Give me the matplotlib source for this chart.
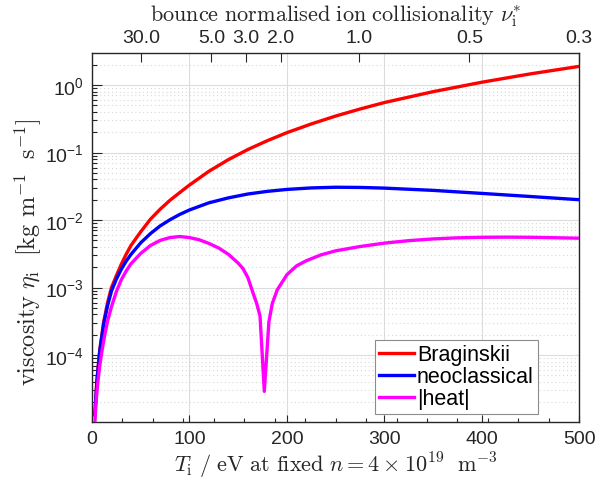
import numpy as np
import matplotlib
matplotlib.use("Agg")
import matplotlib.pyplot as plt
from matplotlib.ticker import LogLocator, NullFormatter, FixedLocator

# ---- data ----
T_brag = [3, 5, 8, 12, 16, 20, 25, 30, 35, 40, 50, 60, 70, 80, 90, 100, 120, 140,
          160, 180, 200, 225, 250, 275, 300, 350, 400, 450, 500]
eta_brag = [1.35e-5, 4.2e-5, 1.2e-4, 3.1e-4, 6.0e-4, 1.0e-3, 1.5e-3, 2.2e-3, 3.1e-3,
            4.2e-3, 6.7e-3, 0.0103, 0.0145, 0.0196, 0.0255, 0.033, 0.0528, 0.0786,
            0.111, 0.150, 0.197, 0.265, 0.347, 0.441, 0.55, 0.797, 1.10, 1.464, 1.89]

T_neo = [3, 5, 8, 12, 16, 20, 25, 30, 35, 40, 50, 60, 70, 80, 90, 100, 120, 140,
         160, 180, 200, 225, 250, 275, 300, 350, 400, 450, 500]
eta_neo = [1.3e-5, 4.0e-5, 1.15e-4, 2.9e-4, 5.4e-4, 8.9e-4, 1.33e-3, 1.86e-3, 2.45e-3,
           3.1e-3, 4.6e-3, 6.3e-3, 8.2e-3, 0.0101, 0.0121, 0.0141, 0.0180, 0.0213,
           0.0243, 0.0266, 0.0284, 0.0299, 0.0306, 0.0304, 0.0297, 0.0275, 0.0248,
           0.0223, 0.0200]

T_heat = [3, 4, 6, 8, 10, 13, 16, 20, 25, 30, 35, 40, 50, 60, 70, 80, 90, 100, 110,
          120, 130, 140, 150, 155, 160, 165, 169, 172.4, 176.8, 181.5, 185, 190,
          200, 210, 220, 235, 250, 275, 300, 325, 350, 375, 400, 425, 450, 475, 500]
eta_heat = [1.0e-5, 1.9e-5, 4.0e-5, 7.0e-5, 1.1e-4, 1.95e-4, 3.2e-4, 5.2e-4, 8.7e-4,
            1.3e-3, 1.75e-3, 2.25e-3, 3.2e-3, 4.2e-3, 5.0e-3, 5.5e-3, 5.7e-3, 5.5e-3,
            5.1e-3, 4.5e-3, 3.85e-3, 3.1e-3, 2.3e-3, 1.9e-3, 1.4e-3, 8.5e-4, 5.8e-4,
            3.8e-4, 2.9e-5, 3.1e-4, 5.8e-4, 9.2e-4, 1.55e-3, 2.1e-3, 2.5e-3, 3.05e-3,
            3.5e-3, 4.05e-3, 4.55e-3, 4.95e-3, 5.25e-3, 5.45e-3, 5.55e-3, 5.58e-3,
            5.55e-3, 5.47e-3, 5.38e-3]

series_labels = ["Braginskii", "neoclassical", "|heat|"]
series_colors = ["#ff0000", "#0000ff", "#ff00ff"]

x_ticks = [0, 100, 200, 300, 400, 500]
nu_ticks = [30.0, 5.0, 3.0, 2.0, 1.0, 0.5, 0.3]
nu_ticklabels = ["30.0", "5.0", "3.0", "2.0", "1.0", "0.5", "0.3"]
T_nu1 = 275.0  # temperature where nu* = 1 (nu* ~ (T_nu1/T)^2)

# ---- style ----
plt.rcParams["font.family"] = ["Liberation Sans", "DejaVu Sans"]
plt.rcParams["mathtext.fontset"] = "custom"
plt.rcParams["mathtext.rm"] = "Liberation Sans"
plt.rcParams["mathtext.it"] = "Liberation Sans:italic"
plt.rcParams["mathtext.bf"] = "Liberation Sans:bold"

dark = "#262626"
W, H = 616, 481
fig = plt.figure(figsize=(W / 100, H / 100), dpi=100)
L, R, Tp, B = 92, 579.3, 54, 422.7
ax = fig.add_axes([L / W, 1 - B / H, (R - L) / W, (B - Tp) / H])

for Tv, ev, lab, col in zip([T_brag, T_neo, T_heat], [eta_brag, eta_neo, eta_heat],
                            series_labels, series_colors):
    ax.plot(Tv, ev, color=col, lw=2.4, label=lab, solid_joinstyle="round", zorder=3)

ax.set_yscale("log")
ax.set_xlim(0, 500)
ax.set_ylim(1.03e-5, 2.98)
ax.set_xticks(x_ticks)
ax.xaxis.set_minor_locator(FixedLocator(np.arange(0, 501, 31.25)))
ax.yaxis.set_major_locator(LogLocator(base=10, numticks=20))
ax.yaxis.set_minor_locator(LogLocator(base=10, subs=np.arange(2, 10), numticks=50))
ax.yaxis.set_minor_formatter(NullFormatter())

ax.grid(True, which="major", color="#dcdcdc", lw=0.8, zorder=0)
ax.grid(True, which="minor", axis="y", color="#d8d8d8", lw=0.8, ls=(0, (1, 2.5)), zorder=0)
ax.set_axisbelow(True)

ax.tick_params(axis="x", which="major", direction="in", length=5, width=0.8,
               color=dark, labelsize=14, labelcolor=dark, pad=6, top=False)
ax.tick_params(axis="x", which="minor", direction="in", length=3, width=0.8,
               color=dark, top=False)
ax.tick_params(axis="y", which="major", direction="in", length=7.5, width=0.8,
               color=dark, labelsize=14, labelcolor=dark, pad=6, right=False)
ax.tick_params(axis="y", which="minor", direction="in", length=3.5, width=0.8,
               color=dark, right=False)
for s in ax.spines.values():
    s.set_color(dark)
    s.set_linewidth(1.0)

ax.set_xlabel(r"$T_\mathrm{i}\ /\ \mathrm{eV\ at\ fixed}\ n = 4\times10^{19}\ \ \mathrm{m}^{-3}$",
              fontsize=16, color=dark, math_fontfamily="cm", labelpad=2)
ax.set_ylabel(r"$\mathrm{viscosity}\ \eta_\mathrm{i}\ \ [\mathrm{kg\ m}^{-1}\ \ \mathrm{s}^{-1}]$",
              fontsize=17.5, color=dark, math_fontfamily="cm")
ax.yaxis.set_label_coords(-0.098, 0.462)

# top axis: collisionality
ax2 = ax.twiny()
ax2.set_xlim(ax.get_xlim())
ax2.set_xticks([T_nu1 / np.sqrt(v) for v in nu_ticks])
ax2.set_xticklabels(nu_ticklabels)
ax2.tick_params(axis="x", which="major", direction="in", length=6.5, width=0.8,
                color=dark, labelsize=14, labelcolor=dark, pad=5, bottom=False)
ax2.xaxis.set_minor_locator(FixedLocator([]))
for s in ax2.spines.values():
    s.set_visible(False)
ax2.set_xlabel(r"$\mathrm{bounce\ normalised\ ion\ collisionality}\ \nu_\mathrm{i}^{*}$",
               fontsize=16, color=dark, math_fontfamily="cm", labelpad=6)

leg = ax.legend(loc="upper left", bbox_to_anchor=(375 / W, 1 - 341 / H),
                bbox_transform=fig.transFigure, borderaxespad=0, fontsize=15.5,
                frameon=True, fancybox=False, framealpha=1, edgecolor="#8c8c8c",
                handlelength=1.6, handletextpad=0.15, labelspacing=0.05,
                borderpad=0.2)
leg.get_frame().set_linewidth(0.8)
for t in leg.get_texts():
    t.set_color("black")

fig.savefig("out.png", dpi=100)
